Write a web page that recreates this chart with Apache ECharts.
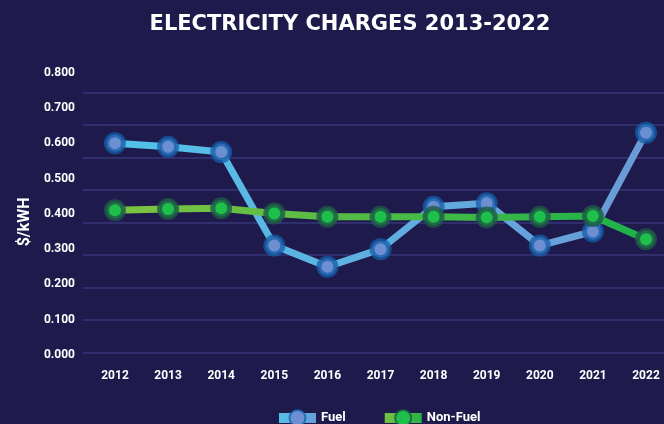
<!DOCTYPE html>
<html>
<head>
<meta charset="utf-8">
<script src="https://cdn.jsdelivr.net/npm/echarts@6/dist/echarts.min.js"></script>
<style>
    html, body { margin: 0; padding: 0; background: #1f1a4c; }
    #chart { width: 664px; height: 424px; }
</style>
</head>
<body>
<div id="chart"></div>
<script>
    var years = ['2012', '2013', '2014', '2015', '2016', '2017', '2018', '2019', '2020', '2021', '2022'];
    var fuel = [0.60, 0.59, 0.575, 0.31, 0.25, 0.30, 0.42, 0.43, 0.31, 0.35, 0.63];
    var nonFuel = [0.41, 0.414, 0.416, 0.401, 0.392, 0.392, 0.392, 0.39, 0.392, 0.394, 0.328];
    var yTicks = [0, 0.1, 0.2, 0.3, 0.4, 0.5, 0.6, 0.7, 0.8];

    var chart = echarts.init(document.getElementById('chart'));

    function grad(c1, c2) {
        return new echarts.graphic.LinearGradient(0, 0, 1, 0, [
            {offset: 0, color: c1}, {offset: 1, color: c2}
        ]);
    }

    chart.setOption({
        backgroundColor: '#1f1a4c',
        animation: false,
        title: {
            text: 'ELECTRICITY CHARGES 2013-2022',
            left: 345,
            top: 9,
            textAlign: 'center',
            textStyle: {
                color: '#fff',
                fontFamily: 'DejaVu Sans',
                fontWeight: 'bold',
                fontSize: 21
            }
        },
        legend: {
            top: 404,
            left: 269,
            itemGap: 34,
            itemWidth: 37,
            itemHeight: 20,
            lineStyle: {width: 10},
            textStyle: {color: '#fff', fontFamily: 'Roboto', fontWeight: 'bold', fontSize: 13},
            data: ['Fuel', 'Non-Fuel']
        },
        grid: [
            {left: 115, right: 18, top: 72.7, bottom: 69},
            {left: 83, right: 0, top: 92.7, bottom: 71.3}
        ],
        xAxis: [{
            gridIndex: 0,
            type: 'category',
            data: years,
            boundaryGap: false,
            axisLine: {show: false},
            axisTick: {show: false},
            axisLabel: {
                margin: 15,
                color: '#fff',
                fontFamily: 'Roboto',
                fontWeight: 'bold',
                fontSize: 12
            }
        }, {
            gridIndex: 1,
            type: 'value',
            show: false
        }],
        yAxis: [{
            gridIndex: 0,
            type: 'value',
            min: yTicks[0],
            max: yTicks[yTicks.length - 1],
            interval: 0.1,
            name: '$/kWH',
            nameLocation: 'middle',
            nameRotate: 90,
            nameGap: 78,
            nameTextStyle: {color: '#fff', fontFamily: 'Roboto', fontWeight: 'bold', fontSize: 16, padding: [0, 0, 0, -16]},
            axisLine: {show: false},
            axisTick: {show: false},
            splitLine: {show: false},
            axisLabel: {
                margin: 40,
                color: '#fff',
                fontFamily: 'Roboto',
                fontWeight: 'bold',
                fontSize: 12,
                formatter: function (v) { return v.toFixed(3); }
            }
        }, {
            // decorative gridlines, offset from the labels as in the original
            gridIndex: 1,
            type: 'value',
            min: 0,
            max: 8,
            interval: 1,
            axisLine: {show: false},
            axisTick: {show: false},
            axisLabel: {show: false},
            splitLine: {lineStyle: {color: '#312e6e', width: 2}}
        }],
        series: [{
            name: 'Fuel',
            type: 'line',
            data: fuel,
            symbol: 'circle',
            symbolSize: 17,
            lineStyle: {width: 7, color: grad('#52c3e9', '#6a9ad6')},
            itemStyle: {
                color: '#6c8fd2',
                borderColor: 'rgba(20,95,170,0.75)',
                borderWidth: 5
            }
        }, {
            name: 'Non-Fuel',
            type: 'line',
            data: nonFuel,
            symbol: 'circle',
            symbolSize: 17,
            lineStyle: {width: 7, color: grad('#80c342', '#1bb24a')},
            itemStyle: {
                color: '#1fbf4b',
                borderColor: 'rgba(30,90,70,0.8)',
                borderWidth: 5
            }
        }]
    });
</script>
</body>
</html>
